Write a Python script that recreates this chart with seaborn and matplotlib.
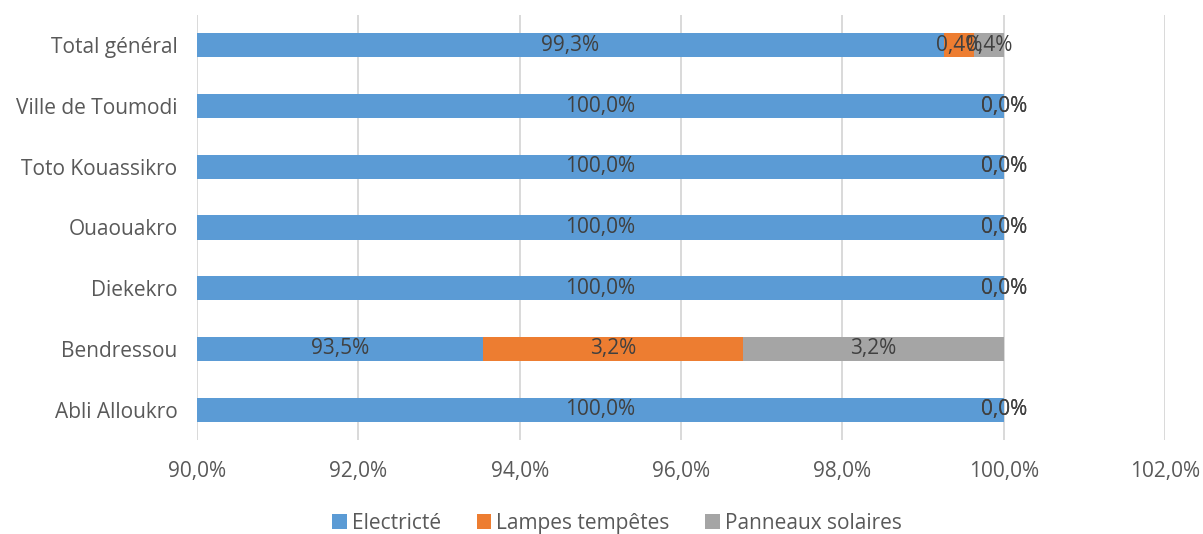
import matplotlib
matplotlib.use("Agg")
import matplotlib.pyplot as plt
from matplotlib.patches import Patch
import seaborn as sns
import pandas as pd
import numpy as np

# Lighting source shares by locality (%)
localites = ["Total général", "Ville de Toumodi", "Toto Kouassikro", "Ouaouakro",
             "Diekekro", "Bendressou", "Abli Alloukro"]
electricite = [99.26, 100.0, 100.0, 100.0, 100.0, 93.54, 100.0]
lampes = [0.37, 0.0, 0.0, 0.0, 0.0, 3.23, 0.0]
panneaux = [0.37, 0.0, 0.0, 0.0, 0.0, 3.23, 0.0]

series_names = ["Electricté", "Lampes tempêtes", "Panneaux solaires"]
colors = ["#5B9BD5", "#ED7D31", "#A5A5A5"]
x_min, x_max = 90.0, 102.0
x_ticks = [90, 92, 94, 96, 98, 100, 102]

sns.set_theme(style="white")
plt.rcParams["font.family"] = ["Open Sans", "DejaVu Sans"]
FS = 15

df = pd.DataFrame({"localite": localites, "e": electricite, "l": lampes, "p": panneaux})
df["c1"] = df["e"]
df["c2"] = df["e"] + df["l"]
df["c3"] = df["e"] + df["l"] + df["p"]

fig = plt.figure(figsize=(12.03, 5.34), dpi=100)
ax = fig.add_axes([0.1638, 0.176, 0.8046, 0.796])

# stacked bars: draw cumulative totals from the outermost segment inwards
for col, color in zip(["c3", "c2", "c1"], colors[::-1]):
    sns.barplot(data=df, x=col, y="localite", order=localites, color=color,
                width=0.4, saturation=1, edgecolor="none", linewidth=0, ax=ax)

ax.set_xlim(x_min, x_max)
ax.set_ylim(len(localites) - 0.5, -0.5)
ax.set_xticks(x_ticks)
ax.set_xticklabels([f"{t:.1f}".replace(".", ",") + "%" for t in x_ticks])
ax.set_xlabel("")
ax.set_ylabel("")
ax.grid(axis="x", color="#D9D9D9", linewidth=1.4)
ax.grid(axis="y", visible=False)
ax.set_axisbelow(True)
for s in ax.spines.values():
    s.set_visible(False)
ax.tick_params(axis="x", length=0, pad=15, labelsize=FS, labelcolor="#595959")
ax.tick_params(axis="y", length=0, pad=14, labelsize=FS, labelcolor="#595959")

def fmt(v):
    return f"{v:.1f}".replace(".", ",") + "%"

# value labels centred on the visible part of each segment
for i, row in df.iterrows():
    starts = [x_min, row["c1"], row["c2"]]
    ends = [row["c1"], row["c2"], row["c3"]]
    vals = [row["e"], row["l"], row["p"]]
    for s0, s1, v in zip(starts, ends, vals):
        ax.text((max(s0, x_min) + s1) / 2, i, fmt(v), ha="center", va="center",
                fontsize=FS, color="#404040")

handles = [Patch(facecolor=c, edgecolor="none", label=n) for n, c in zip(series_names, colors)]
fig.legend(handles=handles, loc="center", bbox_to_anchor=(0.513, 0.02), ncol=3,
           frameon=False, fontsize=FS, handlelength=0.7, handleheight=0.7,
           handletextpad=0.25, columnspacing=1.7, labelcolor="#595959")

fig.savefig("out.png", dpi=100)
